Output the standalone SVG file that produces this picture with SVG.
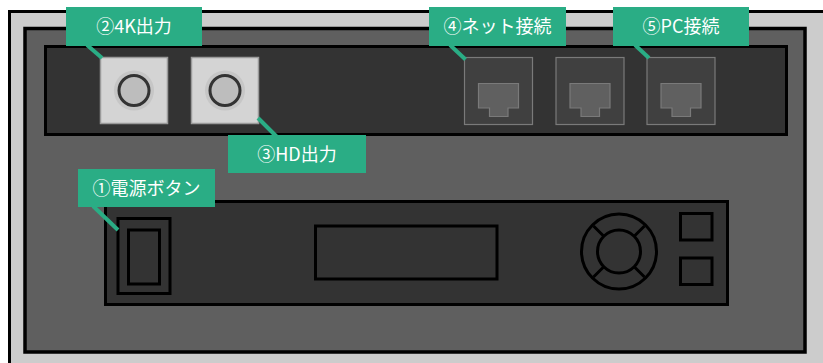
<svg xmlns="http://www.w3.org/2000/svg" width="823" height="363" viewBox="0 0 823 363">
  <style>
    .frame { fill: #cccccc; stroke: #000; stroke-width: 3; }
    .panel { fill: #5f5f5f; stroke: #000; stroke-width: 3.5; }
    .strip { fill: #333333; stroke: #000; stroke-width: 3; }
    .jack { fill: #d4d4d4; stroke: #9a9a9a; stroke-width: 1.5; }
    .halo { fill: #c6c6c6; }
    .ring { fill: #bdbdbd; stroke: #333; stroke-width: 3; }
    .lan { fill: #404040; stroke: #7a7a7a; stroke-width: 1.2; }
    .port { fill: #606060; stroke: #7a7a7a; stroke-width: 1.2; }
    .front { fill: #333333; stroke: #000; stroke-width: 3; }
    .part { fill: none; stroke: #000; stroke-width: 3; }
    .tag { fill: #2aad85; }
    .lead { stroke: #2aad85; stroke-width: 4; fill: none; }
    .tagtext { fill: #fff; font-family: "Noto Sans CJK JP", "Noto Sans", sans-serif; font-size: 18px; text-anchor: middle; }
  </style>

  <!-- housing -->
  <rect class="frame" x="9.5" y="11.5" width="820" height="360"/>
  <rect class="panel" x="25" y="28.5" width="780" height="323.5"/>

  <!-- rear connector strip -->
  <g id="rear-strip">
    <rect class="strip" x="45.5" y="46.5" width="741" height="88"/>
  </g>

  <g id="jack-4k">
    <rect class="jack" x="100.5" y="57.5" width="67" height="66"/>
    <circle class="halo" cx="134" cy="90.5" r="20"/>
    <circle class="ring" cx="134" cy="90.5" r="15"/>
  </g>
  <g id="jack-hd">
    <rect class="jack" x="191.5" y="57.5" width="67" height="66"/>
    <circle class="halo" cx="225" cy="90.5" r="20"/>
    <circle class="ring" cx="225" cy="90.5" r="15"/>
  </g>

  <g id="lan-1">
    <rect class="lan" x="464.5" y="57.5" width="68" height="67"/>
    <path class="port" d="M478.5 83.5 H518.5 V108 H508 V116.5 H489.5 V108 H478.5 Z"/>
  </g>
  <g id="lan-2">
    <rect class="lan" x="556" y="57.5" width="68" height="67"/>
    <path class="port" d="M570 83.5 H610 V108 H599.5 V116.5 H581 V108 H570 Z"/>
  </g>
  <g id="lan-3">
    <rect class="lan" x="647" y="57.5" width="68" height="67"/>
    <path class="port" d="M661 83.5 H701 V108 H690.5 V116.5 H672 V108 H661 Z"/>
  </g>

  <!-- front operation panel -->
  <g id="front-panel">
    <rect class="front" x="105.5" y="201.5" width="622" height="103"/>
  </g>
  <g id="power-switch">
    <rect class="part" x="118" y="218.5" width="52" height="75"/>
    <rect class="part" x="128.5" y="230" width="31" height="54"/>
  </g>
  <g id="display">
    <rect class="part" x="315.5" y="226" width="181.5" height="53"/>
  </g>
  <g id="dial">
    <circle class="part" cx="619" cy="251.5" r="37.5"/>
    <circle class="part" cx="619" cy="251.5" r="21.5"/>
    <path class="part" d="M593.5 226 L603.8 236.3 M644.5 226 L634.2 236.3 M593.5 277 L603.8 266.7 M644.5 277 L634.2 266.7"/>
  </g>
  <g id="buttons">
    <rect class="part" x="680.5" y="213.5" width="31.5" height="26.5"/>
    <rect class="part" x="680.5" y="258" width="31.5" height="26.5"/>
  </g>

  <!-- callout leaders -->
  <g id="connectors">
    <line class="lead" x1="87" y1="45" x2="102" y2="58"/>
    <line class="lead" x1="258" y1="118" x2="277" y2="137"/>
    <line class="lead" x1="450" y1="45" x2="465.5" y2="59.5"/>
    <line class="lead" x1="635" y1="45" x2="649" y2="58"/>
    <line class="lead" x1="93" y1="206" x2="118" y2="230"/>
  </g>

  <!-- callout tags -->
  <g id="tag-4k">
    <rect class="tag" x="66" y="7" width="136" height="39"/>
    <text class="tagtext" x="134" y="33">②4K出力</text>
  </g>
  <g id="tag-hd">
    <rect class="tag" x="228" y="135" width="138" height="38"/>
    <text class="tagtext" x="297" y="161">③HD出力</text>
  </g>
  <g id="tag-net">
    <rect class="tag" x="429" y="7" width="137" height="39"/>
    <text class="tagtext" x="497.5" y="33">④ネット接続</text>
  </g>
  <g id="tag-pc">
    <rect class="tag" x="613" y="7" width="136" height="39"/>
    <text class="tagtext" x="681" y="33">⑤PC接続</text>
  </g>
  <g id="tag-power">
    <rect class="tag" x="78" y="169" width="137" height="38"/>
    <text class="tagtext" x="146.5" y="195">①電源ボタン</text>
  </g>
</svg>
